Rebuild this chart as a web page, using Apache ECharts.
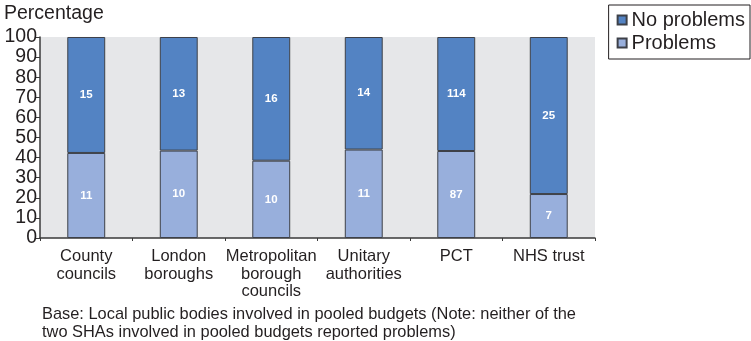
<!DOCTYPE html>
<html>
<head>
<meta charset="utf-8">
<script src="https://cdn.jsdelivr.net/npm/echarts@6/dist/echarts.min.js"></script>
<style>
  html, body { margin: 0; padding: 0; background: #ffffff; }
  #chart { width: 751px; height: 341px; }
</style>
</head>
<body>
<div id="chart"></div>
<script>
// Local public bodies in pooled budgets: counts reporting problems / no problems
const categories = ['County\ncouncils', 'London\nboroughs', 'Metropolitan\nborough\ncouncils', 'Unitary\nauthorities', 'PCT', 'NHS trust'];
const problemsCounts = [11, 10, 10, 11, 87, 7];
const noProblemsCounts = [15, 13, 16, 14, 114, 25];
const yTicks = [0, 10, 20, 30, 40, 50, 60, 70, 80, 90, 100];

// Each bar is the share of bodies in that group, labelled with the raw count
const pct = (part, i) => part / (problemsCounts[i] + noProblemsCounts[i]) * 100;
const problemsData = problemsCounts.map((c, i) => ({ value: pct(c, i), count: c }));
const noProblemsData = noProblemsCounts.map((c, i) => ({ value: pct(c, i), count: c }));

const FONT = '"Liberation Sans", Arial, Helvetica, sans-serif';
const chart = echarts.init(document.getElementById('chart'), null, { renderer: 'canvas' });

const barLabel = {
  show: true,
  position: 'inside',
  color: '#ffffff',
  fontFamily: FONT,
  fontWeight: 'bold',
  fontSize: 11.5,
  formatter: p => p.data.count
};

chart.setOption({
  animation: false,
  backgroundColor: '#ffffff',
  title: [{
    text: 'Percentage',
    left: -1, top: -1,
    textStyle: { fontFamily: FONT, fontSize: 19.5, fontWeight: 'normal', color: '#231f20' }
  }, {
    text: 'Base: Local public bodies involved in pooled budgets (Note: neither of the\ntwo SHAs involved in pooled budgets reported problems)',
    left: 37, top: 300,
    textStyle: { fontFamily: FONT, fontSize: 16.4, fontWeight: 'normal', color: '#231f20', lineHeight: 18.5 }
  }],
  legend: {
    right: 1, top: 5,
    orient: 'vertical',
    data: ['No problems', 'Problems'],
    itemWidth: 9, itemHeight: 9,
    itemGap: 3,
    padding: [5, 5, 6, 8],
    borderColor: '#231f20', borderWidth: 1,
    backgroundColor: '#ffffff',
    textStyle: { fontFamily: FONT, fontSize: 20, color: '#231f20' },
    icon: 'rect'
  },
  grid: { left: 40, right: 156, top: 37, bottom: 103, show: true, backgroundColor: '#e6e7e9', borderWidth: 0 },
  xAxis: {
    type: 'category',
    data: categories,
    axisLine: { lineStyle: { color: '#3a3a3a', width: 1.5 } },
    axisTick: { show: true, inside: false, length: 3, alignWithLabel: false, lineStyle: { color: '#3a3a3a' } },
    axisLabel: { fontFamily: FONT, fontSize: 16.5, color: '#231f20', lineHeight: 17.5, margin: 10, interval: 0 }
  },
  yAxis: {
    type: 'value',
    min: yTicks[0], max: yTicks[yTicks.length - 1], interval: 10,
    splitLine: { show: false },
    axisLine: { show: true, lineStyle: { color: '#3a3a3a', width: 1.5 } },
    axisTick: { show: true, length: 4, lineStyle: { color: '#3a3a3a' } },
    axisLabel: { fontFamily: FONT, fontSize: 19.5, color: '#231f20', margin: 3 }
  },
  series: [{
    name: 'Problems',
    type: 'bar',
    stack: 'share',
    barWidth: '41%',
    data: problemsData,
    itemStyle: { color: '#98afdc', borderColor: '#3d4048', borderWidth: 1 },
    label: barLabel
  }, {
    name: 'No problems',
    type: 'bar',
    stack: 'share',
    barWidth: '41%',
    data: noProblemsData,
    itemStyle: { color: '#5383c3', borderColor: '#3d4048', borderWidth: 1 },
    label: barLabel
  }]
});
</script>
</body>
</html>
